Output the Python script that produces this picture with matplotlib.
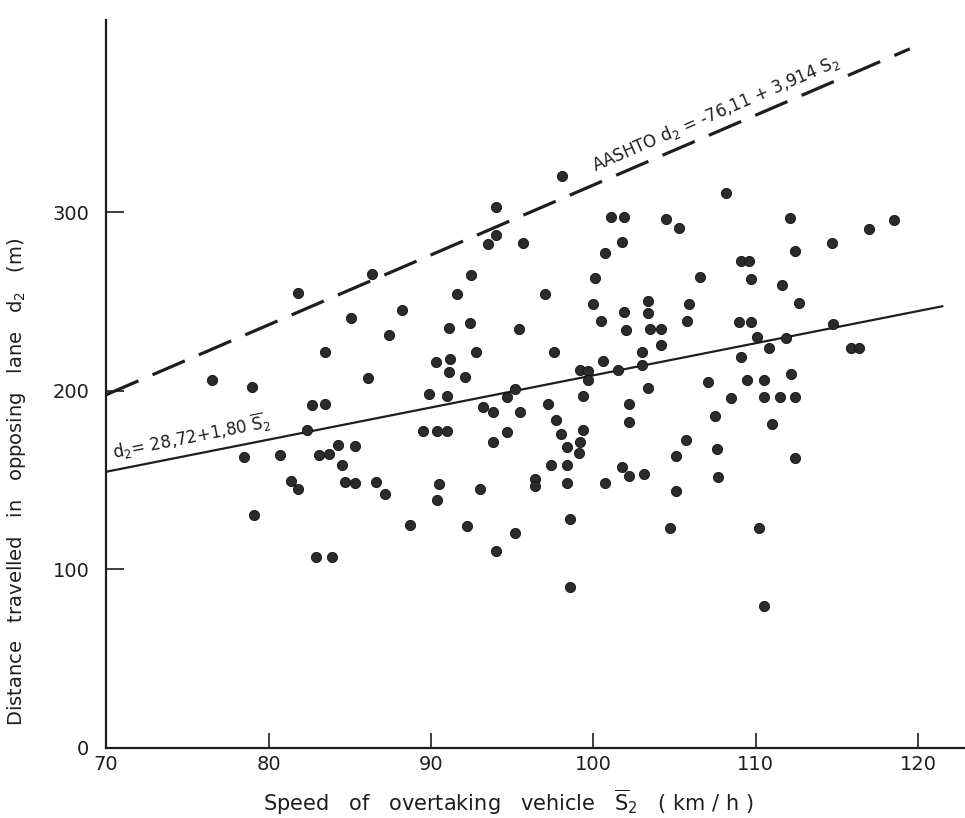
import numpy as np
import matplotlib
matplotlib.use("Agg")
import matplotlib.pyplot as plt

plt.rcParams['font.family'] = ['DejaVu Sans']
plt.rcParams['mathtext.fontset'] = 'dejavusans'

# ---- data ----
speed = [
    81.8, 86.4, 88.2, 85.1, 87.4, 83.5, 76.5, 79.0, 86.1, 82.7, 83.5, 89.9, 82.4, 84.3, 85.3,
    78.5, 80.7, 83.1, 83.7, 84.5, 81.4, 81.8, 84.7, 85.3, 86.6, 87.2, 79.1, 88.7, 82.9, 83.9,
    98.1, 94.0, 94.0, 93.5, 95.7, 101.1, 101.9, 104.5, 105.3, 101.8, 100.7, 92.5, 100.1, 91.6,
    97.0, 100.0, 103.4, 103.4, 101.9, 100.5, 105.9, 105.8, 102.0, 103.5, 104.2, 91.1, 92.4,
    95.4, 104.2, 103.0, 92.8, 97.6, 90.3, 91.2, 91.1, 92.1, 100.6, 99.2, 99.7, 99.7, 101.5,
    103.0, 103.4, 91.0, 95.2, 94.7, 99.4,
    93.2, 93.8, 95.5, 97.2, 102.2, 102.2, 97.7, 99.4, 89.5, 90.4, 91.0, 94.7, 93.8, 98.0, 99.2,
    98.4, 99.1, 97.4, 98.4, 105.7, 105.1, 101.8, 102.2, 103.1, 90.5, 90.4, 93.0, 96.4, 96.4,
    98.4, 100.7, 105.1, 92.2, 95.2, 98.6, 104.7, 94.0, 98.6,
    108.2, 112.1, 118.5, 117.0, 114.7, 112.4, 109.1, 109.6, 106.6, 109.7, 111.6, 112.7, 109.0,
    109.7, 114.8, 110.1, 111.9, 110.8, 115.9, 116.4, 109.1, 107.1, 109.5, 110.5, 112.2, 108.5,
    110.5, 111.5, 112.4, 107.5,
    111.0, 107.6, 112.4, 107.7, 110.2, 110.5,
]
distance = [
    254.9, 265.5, 245.4, 240.9, 231.4, 221.8, 206.2, 202.2, 207.3, 192.2, 192.7, 198.3, 178.2, 169.7, 169.2,
    163.0, 164.1, 164.1, 164.7, 158.5, 149.6, 145.1, 149.0, 148.5, 149.0, 142.3, 130.5, 124.9, 107.0, 107.0,
    320.4, 303.1, 287.4, 282.4, 282.9, 297.5, 297.5, 296.4, 291.3, 283.5, 277.3, 265.0, 263.3, 254.3,
    254.3, 248.7, 250.4, 243.7, 244.3, 239.2, 248.7, 239.2, 234.2, 234.7, 234.7, 235.3, 238.1,
    234.7, 225.8, 221.8, 221.8, 221.8, 216.2, 217.9, 210.6, 207.8, 216.8, 211.8, 211.2, 206.2, 211.8,
    214.6, 201.7, 197.2, 201.1, 196.6, 197.2,
    191.0, 188.2, 188.2, 192.7, 192.7, 182.6, 183.8, 178.2, 177.6, 177.6, 177.6, 177.0, 171.4, 175.9, 171.4,
    168.6, 165.3, 158.5, 158.5, 172.5, 163.6, 157.4, 152.4, 153.5, 147.9, 138.9, 145.1, 150.7, 146.8,
    148.5, 148.5, 144.0, 124.4, 120.4, 128.3, 123.2, 110.4, 90.2,
    310.9, 296.9, 295.8, 290.8, 282.9, 278.4, 272.8, 272.8, 263.9, 262.7, 259.4, 249.3, 238.7,
    238.7, 237.5, 230.3, 229.7, 224.1, 224.1, 224.1, 219.0, 205.0, 206.2, 206.2, 209.5, 196.1,
    196.6, 196.6, 196.6, 186.0,
    181.5, 167.5, 162.5, 151.8, 123.2, 79.6,
]

# regression lines (from the equations printed on the chart)
fit_intercept, fit_slope = 28.72, 1.80
aashto_intercept, aashto_slope = -76.11, 3.914
fit_range = [70, 121.5]
aashto_range = [70, 119.5]

x_ticks = [70, 80, 90, 100, 110, 120]
y_ticks = [0, 100, 200, 300]

# ---- figure ----
fig = plt.figure(figsize=(9.65, 8.18), dpi=100)
ax = fig.add_axes([0.110, 0.0856, 0.890, 0.890])
ax.set_xlim(70, 122.9)
ax.set_ylim(0, 407.8)

ink = '#1e1e1e'
ax.scatter(speed, distance, s=54, color='#2b2b2b', edgecolors='#111111', linewidths=0.6, zorder=3)

xf = np.array(fit_range)
ax.plot(xf, fit_intercept + fit_slope * xf, color=ink, lw=1.6, zorder=2)
xa = np.array(aashto_range)
ax.plot(xa, aashto_intercept + aashto_slope * xa, color=ink, lw=2.3, dashes=(11, 4.8), zorder=2)

for s in ['top', 'right']:
    ax.spines[s].set_visible(False)
for s in ['left', 'bottom']:
    ax.spines[s].set_linewidth(1.6)
    ax.spines[s].set_color(ink)

ax.set_xticks(x_ticks)
ax.set_xticklabels([str(v) for v in x_ticks], fontsize=14, color=ink)
ax.set_yticks(y_ticks)
ax.set_yticklabels([str(v) for v in y_ticks], fontsize=14, color=ink)
ax.tick_params(axis='x', direction='in', length=11, width=1.2, pad=5, colors=ink)
ax.tick_params(axis='y', direction='in', length=13, width=1.2, pad=12, colors=ink)

ax.set_xlabel(r'Speed   of   overtaking   vehicle   $\overline{\mathrm{S}}_2$   ( km / h )', fontsize=15, color=ink)
ax.xaxis.set_label_coords(0.468, -0.055)
ax.set_ylabel(r'Distance   travelled   in   opposing   lane   d$_2$   (m)', fontsize=14, color=ink)
ax.yaxis.set_label_coords(-0.091, 0.365)

fig.canvas.draw()

def angle_for(slope):
    p0 = ax.transData.transform((80, 0))
    p1 = ax.transData.transform((90, slope * 10))
    return np.degrees(np.arctan2(p1[1] - p0[1], p1[0] - p0[0]))

ax.text(70.5, 162, r'd$_2$= 28,72+1,80 $\overline{\mathrm{S}}_2$', fontsize=12, color=ink,
        rotation=angle_for(fit_slope), rotation_mode='anchor', ha='left', va='baseline')
ax.text(100.1, 323, r'AASHTO d$_2$ = -76,11 + 3,914 S$_2$', fontsize=12, color=ink,
        rotation=angle_for(aashto_slope), rotation_mode='anchor', ha='left', va='baseline')

fig.savefig('out.png', dpi=100, facecolor='white')
